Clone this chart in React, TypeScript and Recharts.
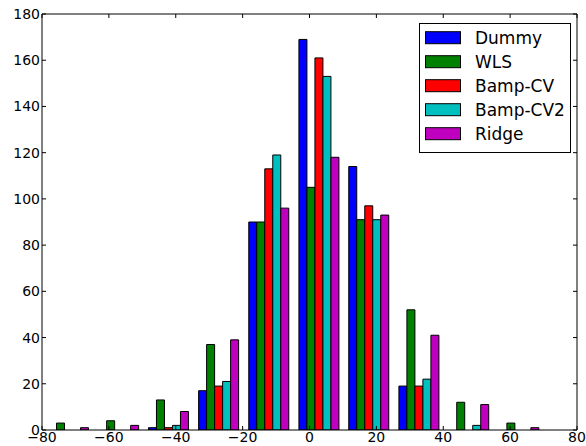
import { Bar, BarChart, Legend, XAxis, YAxis } from "recharts";

// bin centres of the histogram and counts per method
const binCenters = [-72.1, -57.1, -42.2, -27.2, -12.2, 2.8, 17.7, 32.7, 47.6, 62.6];
const dummy = [0, 0, 1, 17, 90, 169, 114, 19, 0, 0];
const wls = [3, 4, 13, 37, 90, 105, 91, 52, 12, 3];
const bampCv = [0, 0, 1, 19, 113, 161, 97, 19, 0, 0];
const bampCv2 = [0, 0, 2, 21, 119, 153, 91, 22, 2, 0];
const ridge = [1, 2, 8, 39, 96, 118, 93, 41, 11, 1];

const xTicks = [-80, -60, -40, -20, 0, 20, 40, 60, 80];
const yTicks = [0, 20, 40, 60, 80, 100, 120, 140, 160, 180];

const series = [
  { key: "Dummy", values: dummy, color: "#0000ff" },
  { key: "WLS", values: wls, color: "#008000" },
  { key: "Bamp-CV", values: bampCv, color: "#ff0000" },
  { key: "Bamp-CV2", values: bampCv2, color: "#00bfbf" },
  { key: "Ridge", values: ridge, color: "#bf00bf" },
];

const data = binCenters.map((x, i) => {
  const row: Record<string, number> = { x };
  series.forEach((s) => (row[s.key] = s.values[i]));
  return row;
});

const font = "DejaVu Sans";
const minus = (v: number) => String(v).replace("-", "\u2212");
const blank = () => "";

function LegendBox() {
  return (
    <svg width={152} height={130}>
      <rect x={0.5} y={0.5} width={151} height={129} fill="#fff" stroke="#000" />
      {series.map((s, i) => (
        <g key={s.key} transform={`translate(0, ${14.7 + i * 24})`}>
          <rect x={6.5} y={-6} width={35} height={12} fill={s.color} stroke="#000" />
          <text x={56} y={6.2} fontSize={17} fontFamily={font} fill="#000">
            {s.key}
          </text>
        </g>
      ))}
    </svg>
  );
}

export default function App() {
  return (
    <div style={{ position: "absolute", left: 0, top: 0 }}>
      <BarChart
        width={586}
        height={446}
        data={data}
        margin={{ top: 13, right: 8, left: 0, bottom: 0 }}
        barCategoryGap="10%"
        barGap={0}
      >
        <XAxis
          dataKey="x"
          type="number"
          domain={[-80, 80]}
          ticks={xTicks}
          allowDataOverflow
          height={16}
          tickSize={-4}
          tickMargin={6}
          tickFormatter={minus}
          stroke="#000"
          tick={{ fill: "#000", fontSize: 14, fontFamily: font }}
          interval={0}
        />
        <XAxis
          xAxisId="top"
          dataKey="x"
          orientation="top"
          type="number"
          domain={[-80, 80]}
          ticks={xTicks}
          allowDataOverflow
          height={1}
          tickSize={-4}
          tickFormatter={blank}
          stroke="#000"
          interval={0}
        />
        <YAxis
          domain={[0, 180]}
          ticks={yTicks}
          allowDataOverflow
          width={42}
          tickSize={-4}
          tickMargin={6}
          stroke="#000"
          tick={{ fill: "#000", fontSize: 14, fontFamily: font }}
          interval={0}
        />
        <YAxis
          yAxisId="right"
          orientation="right"
          domain={[0, 180]}
          ticks={yTicks}
          allowDataOverflow
          width={1}
          tickSize={-4}
          tickFormatter={blank}
          stroke="#000"
          interval={0}
        />
        <Legend
          layout="horizontal"
          align="center"
          verticalAlign="middle"
          wrapperStyle={{ top: 23, left: 419, width: 152, height: 130 }}
          content={() => <LegendBox />}
        />
        {series.map((s) => (
          <Bar
            key={s.key}
            dataKey={s.key}
            fill={s.color}
            stroke="#000"
            strokeWidth={1}
            isAnimationActive={false}
          />
        ))}
      </BarChart>
    </div>
  );
}
